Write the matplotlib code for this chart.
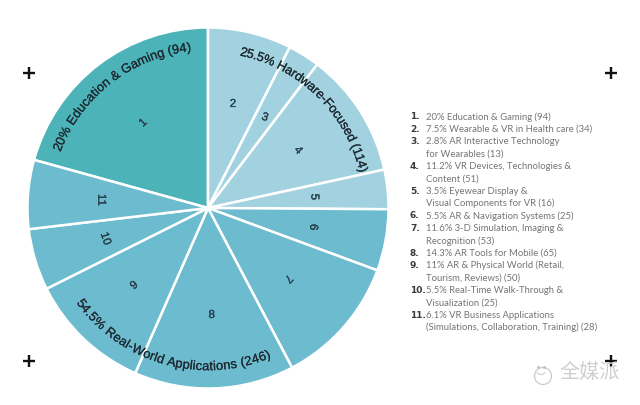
import numpy as np
import matplotlib
matplotlib.use("Agg")
import matplotlib.pyplot as plt
import matplotlib.patheffects as pe
from matplotlib.patches import Arc, Circle

values = [94, 34, 13, 51, 16, 25, 53, 65, 50, 25, 28]
wedge_labels = ["1", "2", "3", "4", "5", "6", "7", "8", "9", "10", "11"]
wedge_rotation = [42, 0, -18, -48, -90, -95, -135, 0, 40, -72, -90]
group_hardware = "25.5% Hardware-Focused (114)"
group_realworld = "54.5% Real-World Applications (246)"
group_education = "20% Education & Gaming (94)"
legend_numbers = ["1.", "2.", "3.", "", "4.", "", "5.", "", "6.", "7.", "", "8.", "9.", "", "10.", "", "11.", ""]
legend_lines = [
    "20% Education & Gaming (94)",
    "7.5% Wearable & VR in Health care (34)",
    "2.8% AR Interactive Technology",
    "for Wearables (13)",
    "11.2% VR Devices, Technologies &",
    "Content (51)",
    "3.5% Eyewear Display &",
    "Visual Components for VR (16)",
    "5.5% AR & Navigation Systems (25)",
    "11.6% 3-D Simulation, Imaging &",
    "Recognition (53)",
    "14.3% AR Tools for Mobile (65)",
    "11% AR & Physical World (Retail,",
    "Tourism, Reviews) (50)",
    "5.5% Real-Time Walk-Through &",
    "Visualization (25)",
    "6.1% VR Business Applications",
    "(Simulations, Collaboration, Training) (28)",
]
TEAL, BLUE, MID = "#4CB4B9", "#A2D2E0", "#6DBBCF"
colors = [TEAL] + [BLUE] * 4 + [MID] * 6

W, H = 640, 405
fig = plt.figure(figsize=(W / 100, H / 100), dpi=100)
ax = fig.add_axes([0, 0, 1, 1])

CX, CY, R = 208, H - 208, 180.5
total = sum(values)
first_span = values[0] / total * 360
ax.pie(values, colors=colors, startangle=90 + first_span, counterclock=False, center=(CX, CY), radius=R,
       wedgeprops=dict(edgecolor="white", linewidth=1.8), frame=True)
ax.set_xlim(0, W)
ax.set_ylim(0, H)
ax.set_aspect("equal")
ax.axis("off")

heavy = [pe.withStroke(linewidth=0.15, foreground="#1f2b33")]

cum = np.cumsum(values)
mids = (cum - np.array(values) / 2) / total * 360 - first_span
for th, lab, rot in zip(mids, wedge_labels, wedge_rotation):
    t = np.radians(th)
    ax.text(CX + 107 * np.sin(t), CY + 107 * np.cos(t), lab, rotation=rot, ha="center", va="center",
            fontsize=8.3, color="#26404c", family="Liberation Sans", rotation_mode="anchor", path_effects=heavy)

fig.canvas.draw()
renderer = fig.canvas.get_renderer()


def char_widths(s, size):
    out = []
    for i in range(len(s)):
        a = ax.text(0, 0, s[:i + 1] + "|", fontsize=size, family="Liberation Sans")
        out.append(a.get_window_extent(renderer).width)
        a.remove()
    return np.diff([out[0] * 0.45] + out)


def curved(s, start, end, r, size, bottom=False):
    w = char_widths(s, size)
    total_w = w.sum()
    pos = np.cumsum(w) - w / 2
    base = r + 3.2 if bottom else r - 3.2
    for ch, p in zip(s, pos):
        a = start + (end - start) * p / total_w
        rad = np.radians(a)
        x = CX + base * np.sin(rad)
        y = CY + base * np.cos(rad)
        rot = 180 - a if bottom else -a
        ax.text(x, y, ch, rotation=rot, ha="center", va="baseline", rotation_mode="anchor",
                fontsize=size, family="Liberation Sans", color="#1f2b33", path_effects=heavy)


curved(group_education, -69, -6, 161, 9.3)
curved(group_hardware, 12, 77, 159, 9.3)
curved(group_realworld, 234, 157, 159, 9.3, bottom=True)

y0, dy = 116.8, 12.4
for i, (n, line) in enumerate(zip(legend_numbers, legend_lines)):
    y = H - (y0 + dy * i)
    if n:
        ax.text(410, y, n, fontsize=6.5, fontweight="bold", family="DejaVu Sans", color="#3a3a3a", va="center")
    ax.text(426, y, line, fontsize=6.8, family="Lato", color="#757575", va="center")

for px, py in [(29, 73), (611, 73), (29, 361), (611, 361)]:
    ax.plot([px], [H - py], marker="+", ms=9, mew=1.7, color="#111111", ls="none", clip_on=False)

# watermark
ax.text(559, H - 373, "全媒派", fontsize=14.5, family="Noto Sans CJK SC", color="#cfcfcf", va="center")
ax.add_patch(Circle((543, H - 376), 8.5, fill=False, ec="#cccccc", lw=0.9))
ax.add_patch(Arc((541, H - 371), 9, 7, theta1=200, theta2=340, ec="#cccccc", lw=0.8))
ax.plot([538, 544], [H - 367, H - 367], ls="none", marker="o", ms=1.2, color="#c4c4c4")

fig.savefig("out.png", dpi=100, facecolor="white")
